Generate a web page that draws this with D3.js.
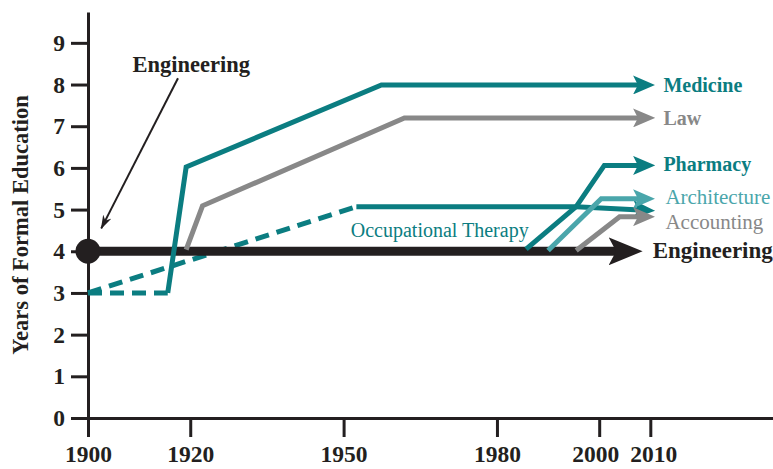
<!DOCTYPE html>
<html>
  <head>
    <title>Years of Formal Education by Profession</title>
    <script src="https://d3js.org/d3.v7.min.js"></script>
    <style>
      body { margin: 0; background: #fff; }
      svg { display: block; }
      text { font-family: "Liberation Serif", "Times New Roman", serif; }
    </style>
  </head>
  <body>
    <svg></svg>
    <script>
      // ---- data (year, years of education) ----
      const xTicks = [1900, 1920, 1950, 1980, 2000, 2010];
      const yTicks = [0, 1, 2, 3, 4, 5, 6, 7, 8, 9];

      const medicineEarly = [[1900, 3], [1915.6, 3]];
      const medicine = [[1915.6, 3], [1919.2, 6.02], [1957.4, 7.99], [2008, 7.99]];
      const law = [[1919.2, 4.04], [1922.4, 5.09], [1961.9, 7.2], [2008, 7.2]];
      const otEarly = [[1900, 3], [1952.5, 5.07]];
      const occTherapy = [[1952.5, 5.07], [1995.5, 5.07], [2008, 4.99]];
      const pharmacy = [[1985.7, 4.05], [1995.5, 5.07], [2001, 6.06], [2008, 6.06]];
      const architecture = [[1990, 4.02], [2000.4, 5.26], [2008, 5.26]];
      const accounting = [[1995.5, 4.02], [2004, 4.83], [2008, 4.83]];
      const engineering = [[1900, 4], [2003.8, 4]];

      const labelNames = ["Medicine", "Law", "Pharmacy", "Architecture", "Accounting"];
      const labelValues = [7.99, 7.2, 6.1, 5.3, 4.72];

      const teal = "#0b7d81";
      const lightTeal = "#4aa6ab";
      const grey = "#888888";
      const ink = "#231f20";

      const width = 773, height = 469;
      const svg = d3.select("svg").attr("width", width).attr("height", height);

      const x = d3.scaleLinear().domain([1900, 2034]).range([88, 773]);
      const y = d3.scaleLinear().domain([0, 9.74]).range([418, 12]);

      // arrow markers
      const defs = svg.append("defs");
      function marker(id, color, len, h, ref, notch) {
        defs.append("marker")
          .attr("id", id)
          .attr("markerUnits", "userSpaceOnUse")
          .attr("viewBox", `0 0 ${len} ${h}`)
          .attr("markerWidth", len)
          .attr("markerHeight", h)
          .attr("refX", ref)
          .attr("refY", h / 2)
          .attr("orient", "auto")
          .append("path")
          .attr("d", `M0,0 L${len},${h / 2} L0,${h} L${len * notch},${h / 2} Z`)
          .attr("fill", color);
      }
      marker("a-teal", teal, 22, 19, 7, 0.22);
      marker("a-light", lightTeal, 22, 19, 7, 0.22);
      marker("a-grey", grey, 22, 19, 7, 0.22);
      marker("a-ink", ink, 34, 28, 10, 0.22);
      marker("a-note", ink, 14, 9, 13, 0.3);

      // axes
      const xAxis = svg.append("g")
        .attr("transform", `translate(0,${y(0)})`)
        .call(d3.axisBottom(x).tickValues(xTicks).tickFormat(d3.format("d"))
          .tickSizeInner(19).tickSizeOuter(0).tickPadding(8));
      const yAxis = svg.append("g")
        .attr("transform", `translate(${x(1900)},0)`)
        .call(d3.axisLeft(y).tickValues(yTicks).tickSizeInner(17).tickSizeOuter(0).tickPadding(6));

      [xAxis, yAxis].forEach(function (g) {
        g.select(".domain").attr("stroke", ink).attr("stroke-width", 3);
        g.selectAll(".tick line").attr("stroke", ink).attr("stroke-width", 3);
        g.selectAll(".tick text")
          .attr("fill", ink)
          .attr("font-size", 23.5)
          .attr("font-weight", "bold")
          .style("font-family", "Liberation Serif, serif");
      });
      // the two close year labels sit a little apart
      xAxis.selectAll(".tick text")
        .attr("dx", d => d === 2000 ? -4 : d === 2010 ? 3 : 0);

      svg.append("text")
        .attr("transform", `translate(28,${(y(0) + y(9.74)) / 2 + 10}) rotate(-90)`)
        .attr("text-anchor", "middle")
        .attr("font-size", 22.5)
        .attr("font-weight", "bold")
        .attr("fill", ink)
        .text("Years of Formal Education");

      const line = d3.line().x(d => x(d[0])).y(d => y(d[1]));

      function draw(data, color, w, opts) {
        opts = opts || {};
        const p = svg.append("path")
          .datum(data)
          .attr("d", line)
          .attr("fill", "none")
          .attr("stroke", color)
          .attr("stroke-width", w)
          .attr("stroke-linejoin", "miter");
        if (opts.dash) p.attr("stroke-dasharray", opts.dash);
        if (opts.arrow) p.attr("marker-end", `url(#${opts.arrow})`);
        return p;
      }

      // dashed early lines
      draw(medicineEarly, teal, 5, { dash: "14,8" });
      draw(otEarly, teal, 5, { dash: "14,8" });

      draw(engineering, ink, 9, { arrow: "a-ink" });
      draw(medicine, teal, 5, { arrow: "a-teal" });
      draw(law, grey, 5, { arrow: "a-grey" });
      draw(occTherapy, teal, 5, { arrow: "a-teal" });
      draw(pharmacy, teal, 5, { arrow: "a-teal" });
      draw(architecture, lightTeal, 5, { arrow: "a-light" });
      draw(accounting, grey, 5, { arrow: "a-grey" });

      svg.append("circle")
        .attr("cx", x(engineering[0][0]))
        .attr("cy", y(engineering[0][1]))
        .attr("r", 12.5)
        .attr("fill", ink);

      // labels at the arrow heads
      const labelColors = [teal, grey, teal, lightTeal, grey];
      const labelWeights = ["bold", "bold", "bold", "normal", "normal"];
      svg.selectAll(".lab")
        .data(labelNames)
        .enter()
        .append("text")
        .attr("class", "lab")
        .attr("x", (d, i) => x(2010.8) + (labelWeights[i] === "bold" ? 9 : 11))
        .attr("y", (d, i) => y(labelValues[i]))
        .attr("dy", "0.35em")
        .attr("font-size", (d, i) => labelWeights[i] === "bold" ? 20 : 21)
        .attr("font-weight", (d, i) => labelWeights[i])
        .attr("fill", (d, i) => labelColors[i])
        .text(d => d);

      svg.append("text")
        .attr("x", x(2008.7) + 9)
        .attr("y", y(4))
        .attr("dy", "0.3em")
        .attr("font-size", 23)
        .attr("font-weight", "bold")
        .attr("fill", ink)
        .text("Engineering");

      svg.append("text")
        .attr("x", x(1951.4))
        .attr("y", y(4.34))
        .attr("font-size", 20)
        .attr("fill", teal)
        .text("Occupational Therapy");

      // annotation
      svg.append("text")
        .attr("x", x(1908.7))
        .attr("y", y(8.3))
        .attr("font-size", 22.5)
        .attr("font-weight", "bold")
        .attr("fill", ink)
        .text("Engineering");

      svg.append("line")
        .attr("x1", x(1917.6)).attr("y1", y(8.15))
        .attr("x2", x(1902.6)).attr("y2", y(4.55))
        .attr("stroke", ink)
        .attr("stroke-width", 2)
        .attr("marker-end", "url(#a-note)");
    </script>
  </body>
</html>
